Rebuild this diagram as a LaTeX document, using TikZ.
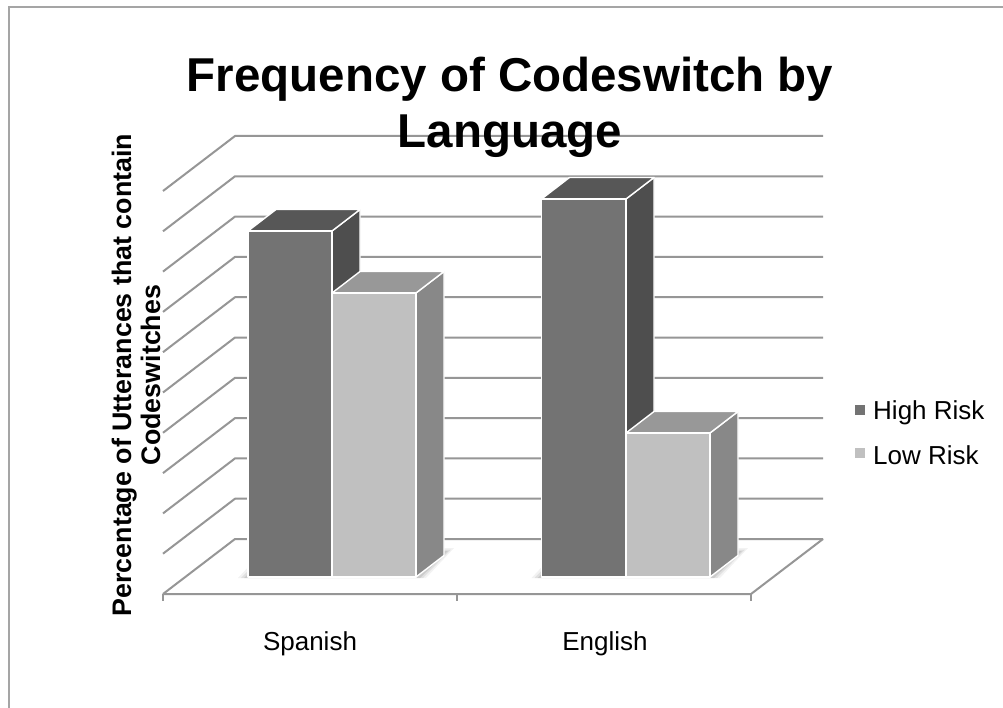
\documentclass[tikz,border=0pt]{standalone}
\usepackage{fontspec}
\setmainfont{Liberation Sans}
\definecolor{hifront}{RGB}{115,115,115}
\definecolor{hitop}{RGB}{87,87,87}
\definecolor{hiside}{RGB}{78,78,78}
\definecolor{lofront}{RGB}{192,192,192}
\definecolor{lotop}{RGB}{152,152,152}
\definecolor{loside}{RGB}{136,136,136}
\definecolor{gridc}{RGB}{150,150,150}
\definecolor{framec}{RGB}{165,165,165}
\newcommand{\drawbar}[6]{%
  \filldraw[fill=#6, barline] (#2,577) -- (#2+28,555.5) -- (#2+28,#3-21.5) -- (#2,#3) -- cycle;
  \filldraw[fill=#5, barline] (#1,#3) -- (#2,#3) -- (#2+28,#3-21.5) -- (#1+28,#3-21.5) -- cycle;
  \filldraw[fill=#4, barline] (#1,577) rectangle (#2,#3);
}
\newcommand{\drawshadow}[2]{%
  \foreach \o/\a in {10/0.05,7/0.07,4/0.09}{
    \fill[black, opacity=\a] (#1-\o,578) -- (#2+\o,578) -- (#2+28+\o,553-\o*0.5) -- (#1+28-\o,553-\o*0.5) -- cycle;
  }
}
\begin{document}
\begin{tikzpicture}[x=1pt,y=-1pt,
  gridline/.style={draw=gridc, line width=2pt, line join=round},
  barline/.style={draw=white, line width=1.4pt, line join=round},
  lbl/.style={font=\fontsize{26}{30}\selectfont, inner sep=0pt},
  ttl/.style={font=\fontsize{47.5}{55}\selectfont\bfseries, inner sep=0pt},
  legsq/.style={draw=white, line width=0.6pt, minimum size=11pt, inner sep=0pt}]
\useasboundingbox (0,0) rectangle (1003,708);
\fill[white] (0,0) rectangle (1003,708);
% frame
\draw[framec, line width=2pt] (9,708) -- (9,7.5) -- (1003,7.5);
% grid lines
\foreach \k in {0,...,10}{
  \pgfmathsetmacro{\yy}{539-40.3*\k}
  \draw[gridline] (163,\yy+55) -- (235,\yy) -- (823,\yy);
}
% floor
\draw[gridline] (163,594) -- (751,594) -- (823,539);
\foreach \tx in {163,457,751}{
  \draw[gridline, line cap=butt] (\tx,594) -- (\tx,601);
}
% shadows
\drawshadow{248}{416}
\drawshadow{541.5}{710}
% bars
\drawbar{248}{332}{231}{hifront}{hitop}{hiside}
\drawbar{332}{416}{293}{lofront}{lotop}{loside}
\drawbar{541.5}{626}{199}{hifront}{hitop}{hiside}
\drawbar{626}{710}{433}{lofront}{lotop}{loside}
% title
\node[ttl, anchor=base] (title1) at (510,92) {Frequency of Codeswitch by};
\node[ttl, anchor=base] (title2) at (510,148) {Language};
% axis label
\node[rotate=90, align=center, font=\fontsize{26.8}{29}\selectfont\bfseries, inner sep=0pt] (ylab) at (136,375) {Percentage of Utterances that contain\\Codeswitches};
% categories
\node[lbl, anchor=base] (spanish) at (310,650) {Spanish};
\node[lbl, anchor=base] (english) at (605,650) {English};
% legend
\node[legsq, fill=hifront] (lgh) at (859.5,410) {};
\node[legsq, fill=lofront] (lgl) at (859.5,453) {};
\node[lbl, anchor=base west] (lgtxth) at (873,419) {High Risk};
\node[lbl, anchor=base west] (lgtxtl) at (873,464) {Low Risk};
\end{tikzpicture}
\end{document}
